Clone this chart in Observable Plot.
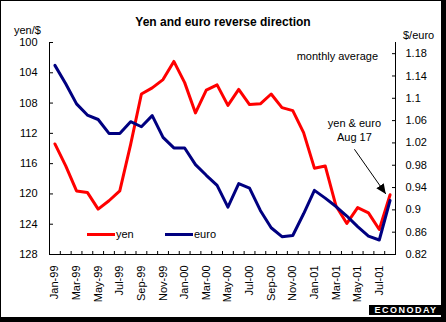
<!DOCTYPE html>
<html>
<head>
<meta charset="utf-8">
<script src="https://cdn.jsdelivr.net/npm/d3@7"></script>
<script src="https://cdn.jsdelivr.net/npm/@observablehq/plot@0.6"></script>
<style>
  html, body { margin: 0; padding: 0; background: #fff; }
  #wrap { position: relative; width: 446px; height: 322px; overflow: hidden; background: #fff;
          font-family: "Liberation Sans", Arial, sans-serif; color: #000; }
  #wrap svg { position: absolute; left: 0; top: 0; }
  .t { position: absolute; font-size: 11px; line-height: 14px; white-space: nowrap; }
  .bar { position: absolute; background: #000; }
  .key { position: absolute; height: 3px; }
</style>
</head>
<body>
<div id="wrap">
  <div class="t" style="left:0;width:446px;top:15px;text-align:center;font-size:12px;font-weight:bold;">Yen and euro reverse direction</div>
  <div class="t" style="left:14px;top:23px;">yen/$</div>
  <div class="t" style="left:403px;top:28px;">$/euro</div>
  <div class="t" style="right:68px;top:49px;">monthly average</div>
  <div class="key" style="left:87px;top:233px;width:28px;background:#ff0000;"></div>
  <div class="t" style="left:116px;top:227px;">yen</div>
  <div class="key" style="left:165px;top:233px;width:28px;background:#000080;"></div>
  <div class="t" style="left:194px;top:227px;">euro</div>
  <div class="bar" style="left:0;top:0;width:446px;height:1px;"></div>
  <div class="bar" style="left:0;top:0;width:1px;height:322px;"></div>
  <div class="bar" style="left:441px;top:0;width:5px;height:322px;"></div>
  <div class="bar" style="left:0;top:317px;width:446px;height:5px;"></div>
  <div class="bar" style="left:369px;top:305px;width:74px;height:10px;color:#fff;font-size:9px;font-weight:bold;letter-spacing:1.5px;line-height:10px;text-align:center;">ECONODAY</div>
</div>
<script>
// ---- data ----
const months = ["Jan-99","Feb-99","Mar-99","Apr-99","May-99","Jun-99","Jul-99","Aug-99","Sep-99","Oct-99","Nov-99","Dec-99",
                "Jan-00","Feb-00","Mar-00","Apr-00","May-00","Jun-00","Jul-00","Aug-00","Sep-00","Oct-00","Nov-00","Dec-00",
                "Jan-01","Feb-01","Mar-01","Apr-01","May-01","Jun-01","Jul-01","Aug-01"];
const yen = [113.4, 116.3, 119.6, 119.8, 122.0, 120.9, 119.6, 113.5, 106.8, 106.0, 104.9, 102.5,
             105.3, 109.3, 106.3, 105.6, 108.3, 106.2, 108.2, 108.1, 106.8, 108.6, 109.0, 111.9,
             116.6, 116.3, 121.6, 123.9, 121.8, 122.5, 124.7, 120.1];
const euro = [1.159, 1.126, 1.090, 1.070, 1.062, 1.037, 1.037, 1.058, 1.049, 1.069, 1.030, 1.011,
              1.011, 0.981, 0.962, 0.944, 0.905, 0.947, 0.939, 0.899, 0.868, 0.852, 0.854, 0.893,
              0.935, 0.921, 0.906, 0.889, 0.870, 0.853, 0.846, 0.917];
const yenTicks = [100, 104, 108, 112, 116, 120, 124, 128];
const euroTicks = [0.82, 0.86, 0.90, 0.94, 0.98, 1.02, 1.06, 1.10, 1.14, 1.18];
const yenDomain = [100, 128];   // top, bottom
const euroDomain = [1.20, 0.82]; // top, bottom
const noteText = "yen & euro\nAug 17";
const notePos = {i: 27.7, value: 111.5};
const arrowPos = {i1: 27.7, v1: 114.1, i2: 30.6, v2: 120.0};

// ---- map euro onto the yen (left) scale ----
const k = (yenDomain[1] - yenDomain[0]) / (euroDomain[0] - euroDomain[1]);
const euroToY = e => yenDomain[0] + (euroDomain[0] - e) * k;
const yToEuro = v => euroDomain[0] - (v - yenDomain[0]) / k;

const data = months.map((m, i) => ({i, month: m, yen: yen[i], euroY: euroToY(euro[i])}));
const bounds = d3.range(1, months.length + 1).map(j => j - 0.5);
const labelIdx = d3.range(0, months.length, 2);

function filledArrow(color, context) {
  const doc = context.document;
  const ns = "http://www.w3.org/2000/svg";
  const m = doc.createElementNS(ns, "marker");
  m.setAttribute("viewBox", "-10 -5 10 10");
  m.setAttribute("markerWidth", "10");
  m.setAttribute("markerHeight", "10");
  m.setAttribute("markerUnits", "userSpaceOnUse");
  m.setAttribute("orient", "auto");
  m.setAttribute("refX", "0");
  m.setAttribute("refY", "0");
  const p = doc.createElementNS(ns, "path");
  p.setAttribute("d", "M-10,-4.5L0,0L-10,4.5Z");
  p.setAttribute("fill", "#000");
  p.setAttribute("stroke", "none");
  m.appendChild(p);
  return m;
}

const chart = Plot.plot({
  width: 446,
  height: 322,
  marginLeft: 49,
  marginRight: 51,
  marginTop: 42,
  marginBottom: 68,
  style: {fontFamily: "'Liberation Sans', Arial, sans-serif", fontSize: "11px", background: "transparent", color: "#000", overflow: "visible"},
  x: {type: "linear", domain: [-0.5, months.length - 0.5]},
  y: {domain: [yenDomain[1], yenDomain[0]]},
  marks: [
    Plot.frame({anchor: "left", stroke: "#000"}),
    Plot.frame({anchor: "right", stroke: "#000"}),
    Plot.frame({anchor: "bottom", stroke: "#000"}),
    Plot.axisY(yenTicks, {anchor: "left", tickSize: -4, tickPadding: 16, tickFormat: d => String(d), label: null}),
    Plot.axisY(euroTicks.map(euroToY), {anchor: "right", tickSize: -4, tickPadding: 14,
      tickFormat: d => String(+yToEuro(d).toFixed(2)), label: null}),
    Plot.axisX(bounds, {anchor: "bottom", tickSize: -3, tickFormat: () => "", label: null}),
    Plot.axisX(labelIdx, {anchor: "bottom", tickSize: 0, tickPadding: 11, tickRotate: -90,
      tickFormat: i => months[i], label: null}),
    Plot.lineY(data, {x: "i", y: "yen", stroke: "#ff0000", strokeWidth: 3}),
    Plot.lineY(data, {x: "i", y: "euroY", stroke: "#000080", strokeWidth: 3}),
    Plot.link([arrowPos], {x1: "i1", y1: "v1", x2: "i2", y2: "v2", stroke: "#000", strokeWidth: 1, markerEnd: filledArrow}),
    Plot.text([notePos], {x: "i", y: "value", text: () => noteText, fontSize: 11, lineHeight: 1.3, textAnchor: "middle", fill: "#000"})
  ]
});
document.getElementById("wrap").insertBefore(chart, document.getElementById("wrap").firstChild);
</script>
</body>
</html>
